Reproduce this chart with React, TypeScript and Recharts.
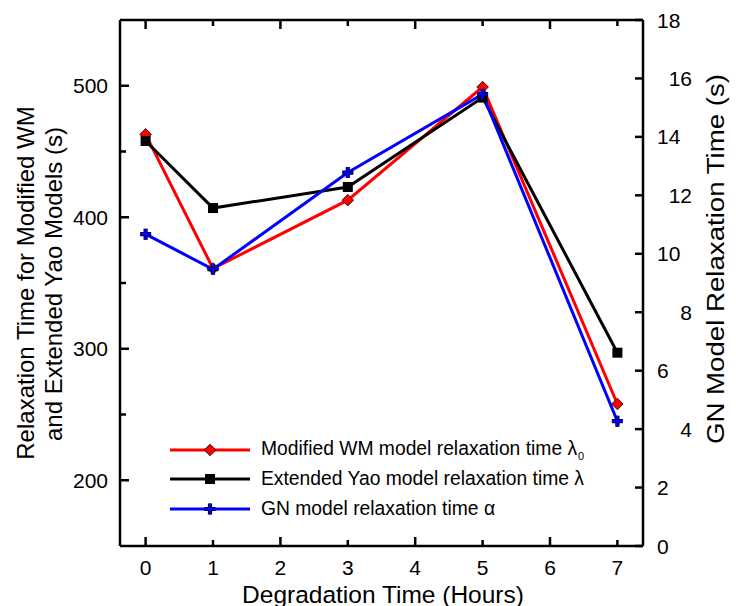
import React from 'react';
import { LineChart, Line, XAxis, YAxis, Legend } from 'recharts';

const hours = [0, 1, 3, 5, 7];
const wmTimes = [463, 361, 413, 499, 258];
const yaoTimes = [458, 407, 423, 491, 297];
const gnTimes = [10.67, 9.47, 12.78, 15.46, 4.27];

const xTicks = [0, 1, 2, 3, 4, 5, 6, 7];
const leftTicks = [200, 250, 300, 350, 400, 450, 500];
const rightTicks = [0, 2, 4, 6, 8, 10, 12, 14, 16, 18];

const data = hours.map((h, i) => ({ x: h, wm: wmTimes[i], yao: yaoTimes[i], gn: gnTimes[i] }));

const FONT = "'Liberation Sans', Arial, sans-serif";
const AXIS_W = 2.5;

function Diamond({ cx, cy, r = 5.8 }: any) {
    if (cx == null || cy == null) return null;
    return (
        <polygon
            points={`${cx},${cy - r} ${cx + r},${cy} ${cx},${cy + r} ${cx - r},${cy}`}
            fill="#ff0000"
            stroke="#000"
            strokeWidth={0.8}
        />
    );
}

function Square({ cx, cy, r = 5 }: any) {
    if (cx == null || cy == null) return null;
    return <rect x={cx - r} y={cy - r} width={r * 2} height={r * 2} fill="#000" />;
}

function Plus({ cx, cy, r = 5.5 }: any) {
    if (cx == null || cy == null) return null;
    const d = `M${cx - r},${cy} L${cx + r},${cy} M${cx},${cy - r} L${cx},${cy + r}`;
    return (
        <g>
            <path d={d} stroke="#000033" strokeWidth={4.2} />
            <path d={d} stroke="#0000ff" strokeWidth={2.2} />
        </g>
    );
}

const series = [
    { key: 'wm', color: '#ff0000', label: 'Modified WM model relaxation time ', sym: 'λ', sub: '0', Marker: Diamond },
    { key: 'yao', color: '#000000', label: 'Extended Yao model relaxation time ', sym: 'λ', sub: '', Marker: Square },
    { key: 'gn', color: '#0000ff', label: 'GN model relaxation time ', sym: 'α', sub: '', Marker: Plus },
];

function LeftTick({ x, y, payload }: any) {
    const ax = x + 12;
    const major = payload.value % 100 === 0;
    return (
        <g>
            <line x1={ax} x2={ax + (major ? 9 : 6)} y1={y} y2={y} stroke="#000" strokeWidth={AXIS_W} />
            {major && (
                <text x={x} y={y} dy="0.36em" textAnchor="end" fontSize={21} fontFamily={FONT} fill="#000">
                    {payload.value}
                </text>
            )}
        </g>
    );
}

function RightTick({ x, y, payload }: any) {
    const ax = x - 14;
    const v = payload.value;
    const shifted = v % 4 === 0 && v > 0;
    return (
        <g>
            <line x1={ax} x2={ax - 8} y1={y} y2={y} stroke="#000" strokeWidth={AXIS_W} />
            <text
                x={shifted ? ax + 49 : x}
                y={y}
                dy="0.36em"
                textAnchor={shifted ? 'end' : 'start'}
                fontSize={21}
                fontFamily={FONT}
                fill="#000"
            >
                {v}
            </text>
        </g>
    );
}

function BottomTick({ x, y, payload }: any) {
    const ay = y - 14;
    const major = payload.value % 2 === 0;
    return (
        <g>
            <line x1={x} x2={x} y1={ay} y2={ay - (major ? 9 : 6)} stroke="#000" strokeWidth={AXIS_W} />
            <text x={x} y={y} dy="0.72em" textAnchor="middle" fontSize={21} fontFamily={FONT} fill="#000">
                {payload.value}
            </text>
        </g>
    );
}

function TopTick({ x, y, payload }: any) {
    const major = payload.value % 2 === 0;
    return <line x1={x} x2={x} y1={y} y2={y + (major ? 9 : 6)} stroke="#000" strokeWidth={AXIS_W} />;
}

function LegendBox() {
    return (
        <div style={{ fontFamily: FONT, fontSize: 19.3, color: '#000' }}>
            {series.map((s) => (
                <div key={s.key} style={{ display: 'flex', alignItems: 'center', height: 29.5 }}>
                    <svg width={80} height={20} style={{ overflow: 'visible' }}>
                        <line x1={0} x2={80} y1={10} y2={10} stroke={s.color} strokeWidth={3} />
                        <s.Marker cx={40} cy={10} />
                    </svg>
                    <span style={{ marginLeft: 11, whiteSpace: 'nowrap' }}>
                        {s.label}
                        {s.sym}
                        {s.sub && <sub style={{ fontSize: 11, marginLeft: 1 }}>{s.sub}</sub>}
                    </span>
                </div>
            ))}
        </div>
    );
}

export default function App() {
    return (
        <div style={{ position: 'absolute', left: 0, top: 0, width: 736, height: 606, background: '#fff' }}>
            <LineChart width={736} height={606} data={data} margin={{ top: 0, right: 0, bottom: 0, left: 0 }}>
                <XAxis
                    xAxisId="bottom"
                    dataKey="x"
                    type="number"
                    domain={[-0.38, 7.38]}
                    ticks={xTicks}
                    allowDataOverflow
                    height={60}
                    tickSize={0}
                    tickMargin={14}
                    tickLine={false}
                    axisLine={{ stroke: '#000', strokeWidth: AXIS_W }}
                    tick={<BottomTick />}
                    interval={0}
                />
                <XAxis
                    xAxisId="top"
                    orientation="top"
                    dataKey="x"
                    type="number"
                    domain={[-0.38, 7.38]}
                    ticks={xTicks}
                    allowDataOverflow
                    height={20}
                    tickSize={0}
                    tickMargin={0}
                    tickLine={false}
                    axisLine={{ stroke: '#000', strokeWidth: AXIS_W }}
                    tick={<TopTick />}
                    interval={0}
                />
                <YAxis
                    yAxisId="left"
                    type="number"
                    domain={[150, 550]}
                    ticks={leftTicks}
                    allowDataOverflow
                    width={120}
                    tickSize={0}
                    tickMargin={12}
                    tickLine={false}
                    axisLine={{ stroke: '#000', strokeWidth: AXIS_W }}
                    tick={<LeftTick />}
                    interval={0}
                />
                <YAxis
                    yAxisId="right"
                    orientation="right"
                    type="number"
                    domain={[0, 18]}
                    ticks={rightTicks}
                    allowDataOverflow
                    width={93}
                    tickSize={0}
                    tickMargin={14}
                    tickLine={false}
                    axisLine={{ stroke: '#000', strokeWidth: AXIS_W }}
                    tick={<RightTick />}
                    interval={0}
                />
                <Line
                    xAxisId="bottom"
                    yAxisId="left"
                    dataKey="wm"
                    type="linear"
                    stroke="#ff0000"
                    strokeWidth={3}
                    dot={(p: any) => <Diamond key={`wm-${p.index}`} cx={p.cx} cy={p.cy} />}
                    activeDot={false}
                    isAnimationActive={false}
                />
                <Line
                    xAxisId="bottom"
                    yAxisId="left"
                    dataKey="yao"
                    type="linear"
                    stroke="#000000"
                    strokeWidth={3}
                    dot={(p: any) => <Square key={`yao-${p.index}`} cx={p.cx} cy={p.cy} />}
                    activeDot={false}
                    isAnimationActive={false}
                />
                <Line
                    xAxisId="bottom"
                    yAxisId="right"
                    dataKey="gn"
                    type="linear"
                    stroke="#0000ff"
                    strokeWidth={3}
                    dot={(p: any) => <Plus key={`gn-${p.index}`} cx={p.cx} cy={p.cy} />}
                    activeDot={false}
                    isAnimationActive={false}
                />
                <Legend
                    verticalAlign="middle"
                    align="center"
                    layout="horizontal"
                    content={() => <LegendBox />}
                    wrapperStyle={{ position: 'absolute', left: 170, top: 435, width: 'auto', height: 'auto' }}
                />
                <text x={383} y={603} textAnchor="middle" fontSize={24.5} fontFamily={FONT} fill="#000">
                    Degradation Time (Hours)
                </text>
                <text
                    transform="translate(25, 283) rotate(-90)"
                    textAnchor="middle"
                    dy="0.36em"
                    fontSize={24}
                    fontFamily={FONT}
                    fill="#000"
                >
                    Relaxation Time for Modified WM
                </text>
                <text
                    transform="translate(53, 284) rotate(-90)"
                    textAnchor="middle"
                    dy="0.36em"
                    fontSize={24}
                    fontFamily={FONT}
                    fill="#000"
                >
                    and Extended Yao Models (s)
                </text>
                <text
                    transform="translate(716, 259) rotate(-90)"
                    textAnchor="middle"
                    dy="0.36em"
                    fontSize={23.5}
                    textLength={370}
                    lengthAdjust="spacingAndGlyphs"
                    fontFamily={FONT}
                    fill="#000"
                >
                    GN Model Relaxation Time (s)
                </text>
            </LineChart>
        </div>
    );
}
